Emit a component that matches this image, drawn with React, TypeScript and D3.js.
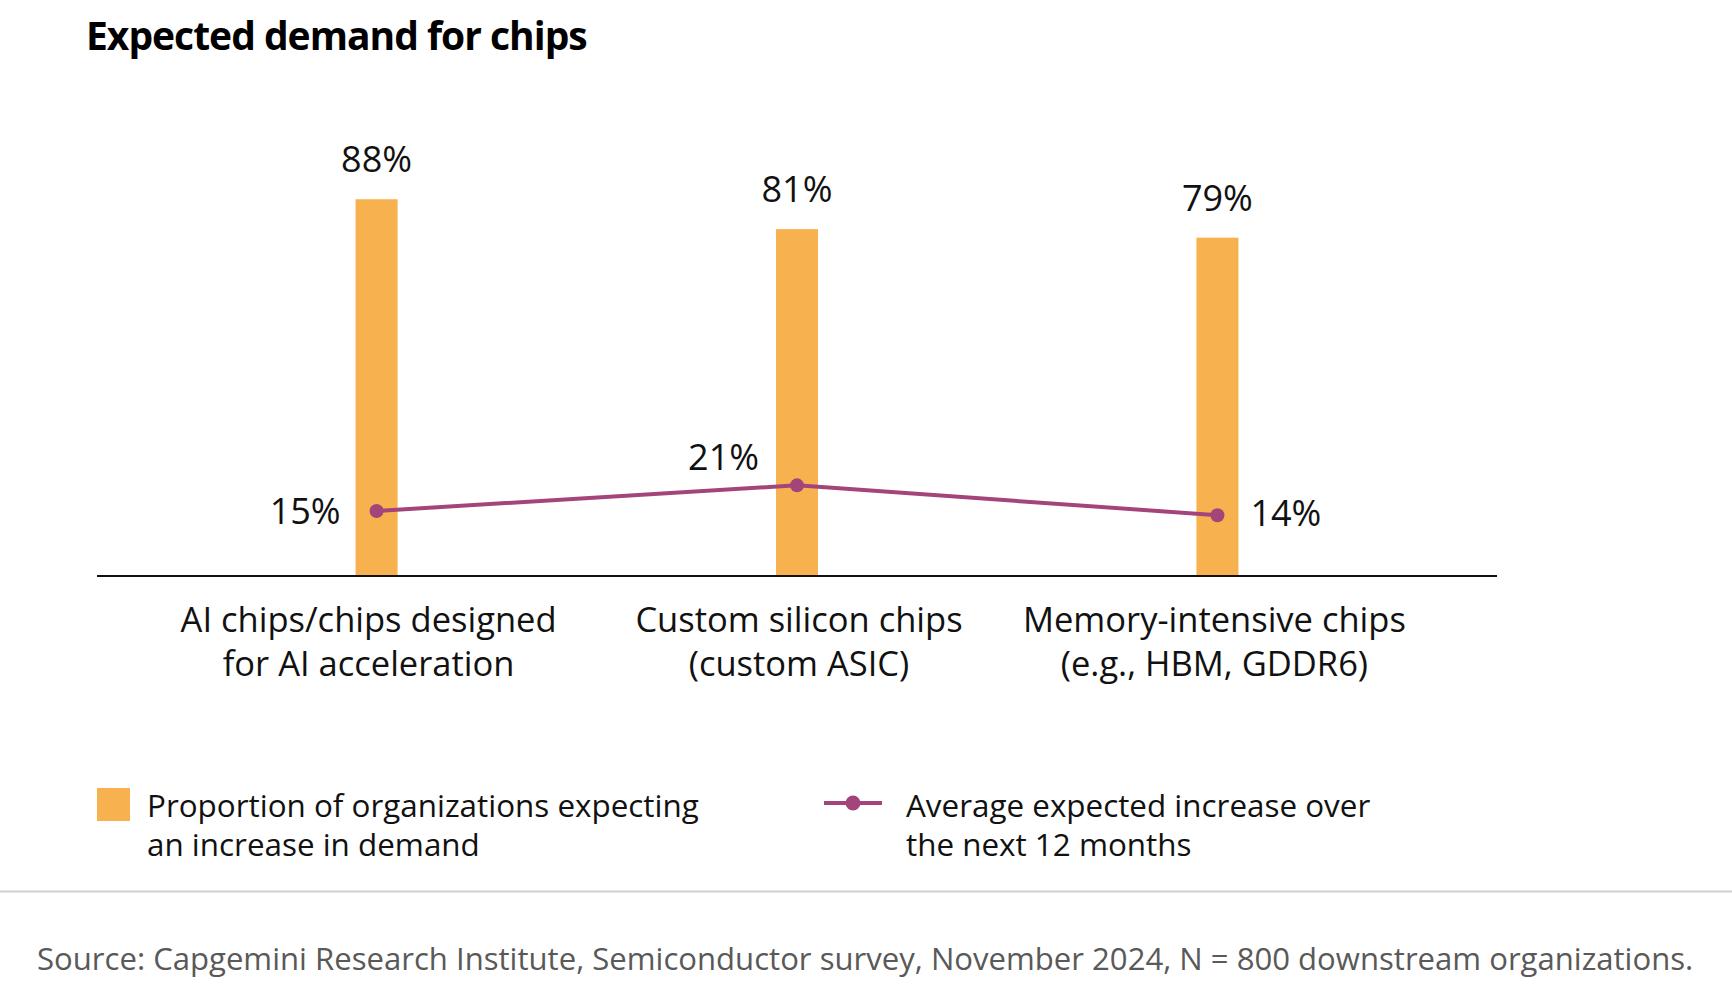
import { useEffect } from 'react';
import * as d3 from 'd3';

const categories = ['ai', 'custom', 'memory'];
const categoryLabels = [
  ['AI chips/chips designed', 'for AI acceleration'],
  ['Custom silicon chips', '(custom ASIC)'],
  ['Memory-intensive chips', '(e.g., HBM, GDDR6)'],
];
const demandShare = [88, 81, 79];
const avgIncrease = [15, 21, 14];
const legendBar = ['Proportion of organizations expecting', 'an increase in demand'];
const legendLine = ['Average expected increase over', 'the next 12 months'];
const title = 'Expected demand for chips';
const source = 'Source: Capgemini Research Institute, Semiconductor survey, November 2024, N = 800 downstream organizations.';

const W = 1732;
const H = 992;
const FONT = '"Open Sans", "Noto Sans", sans-serif';
const BAR = '#F7B24F';
const LINE = '#A3457B';

// where each line label sits relative to its point
const lineLabelPos = [
  { dx: -36, dy: 13, anchor: 'end' },
  { dx: -38, dy: -15, anchor: 'end' },
  { dx: 33, dy: 11, anchor: 'start' },
];
// category labels are not exactly centred on the bars in the original
const labelShift = [-8, 2, -3];

export default function App() {
  useEffect(() => {
    document.body.style.margin = '0';
  }, []);

  const x = d3.scalePoint<string>().domain(categories).range([97, 1497]).padding(0.665);
  const y = d3.scaleLinear().domain([0, 100]).range([575, 148]);
  const barW = 42;

  const pts: [number, number][] = categories.map((c, i) => [x(c)!, y(avgIncrease[i])]);
  const line = d3.line()(pts) || '';

  return (
    <svg width={W} height={H} style={{ display: 'block', background: '#fff' }} fontFamily={FONT}>
      <text x={86} y={50} fontSize={39} fontWeight={700} letterSpacing={-1} fill="#000">{title}</text>

      {categories.map((c, i) => (
        <g key={c}>
          <rect x={x(c)! - barW / 2} y={y(demandShare[i])} width={barW} height={y(0) - y(demandShare[i])} fill={BAR} />
          <text x={x(c)} y={y(demandShare[i]) - 27} textAnchor="middle" fontSize={36} fill="#111">
            {demandShare[i]}%
          </text>
          {categoryLabels[i].map((t, j) => (
            <text key={j} x={x(c)! + labelShift[i]} y={632 + j * 44} textAnchor="middle" fontSize={34.5} fill="#111">{t}</text>
          ))}
        </g>
      ))}

      <line x1={97} x2={1497} y1={y(0) + 1} y2={y(0) + 1} stroke="#111" strokeWidth={2} />

      <path d={line} fill="none" stroke={LINE} strokeWidth={4} />
      {pts.map((p, i) => (
        <g key={i}>
          <circle cx={p[0]} cy={p[1]} r={7} fill={LINE} />
          <text x={p[0] + lineLabelPos[i].dx} y={p[1] + lineLabelPos[i].dy} textAnchor={lineLabelPos[i].anchor} fontSize={36} fill="#111">
            {avgIncrease[i]}%
          </text>
        </g>
      ))}

      <rect x={97} y={788} width={33} height={33} fill={BAR} />
      {legendBar.map((t, j) => (
        <text key={j} x={147} y={817 + j * 39} fontSize={31.4} fill="#111">{t}</text>
      ))}
      <line x1={824} x2={882} y1={803} y2={803} stroke={LINE} strokeWidth={4} />
      <circle cx={853} cy={803} r={7.5} fill={LINE} />
      {legendLine.map((t, j) => (
        <text key={j} x={906} y={817 + j * 39} fontSize={31.4} fill="#111">{t}</text>
      ))}

      <line x1={0} x2={W} y1={891.5} y2={891.5} stroke="#cfcfcf" strokeWidth={2} />
      <text x={37} y={970} fontSize={31.1} fill="#595959">{source}</text>
    </svg>
  );
}
